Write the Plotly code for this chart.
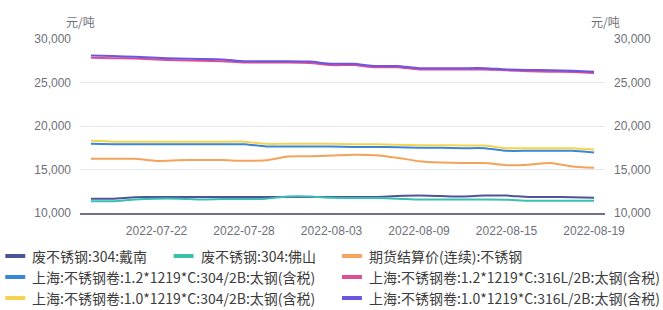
import plotly.graph_objects as go

dates = ["2022-07-19","2022-07-20","2022-07-21","2022-07-22","2022-07-25","2022-07-26",
         "2022-07-27","2022-07-28","2022-07-29","2022-08-01","2022-08-02","2022-08-03",
         "2022-08-04","2022-08-05","2022-08-08","2022-08-09","2022-08-10","2022-08-11",
         "2022-08-12","2022-08-15","2022-08-16","2022-08-17","2022-08-18","2022-08-19"]

scrap_dainan = [11650,11650,11800,11850,11850,11850,11850,11850,11850,11850,11850,11850,
                11850,11850,11950,12000,11950,11900,12000,12000,11850,11850,11800,11750]
scrap_foshan = [11350,11350,11550,11650,11650,11550,11600,11600,11650,11900,11900,11750,
                11720,11720,11650,11550,11550,11550,11550,11530,11400,11420,11400,11400]
futures = [16250,16250,16230,15980,16050,16100,16080,16000,16050,16500,16520,16600,
           16700,16650,16350,15950,15800,15750,15750,15500,15550,15750,15350,15200]
coil12_304 = [17950,17900,17900,17900,17900,17900,17900,17900,17650,17650,17650,17650,
              17600,17600,17550,17500,17500,17450,17450,17150,17150,17150,17150,16950]
coil12_316 = [27850,27800,27750,27650,27550,27500,27450,27300,27300,27300,27250,27000,
              27000,26750,26750,26500,26500,26500,26500,26400,26300,26250,26200,26100]
coil10_304 = [18300,18200,18200,18200,18200,18200,18200,18200,17950,17950,17950,17950,
              17900,17900,17850,17800,17800,17750,17750,17450,17450,17450,17450,17300]
coil10_316 = [28100,28050,27950,27850,27750,27700,27650,27450,27450,27450,27400,27150,
              27150,26900,26900,26650,26650,26650,26650,26500,26450,26400,26350,26250]

names = ["废不锈钢:304:戴南", "废不锈钢:304:佛山", "期货结算价(连续):不锈钢",
         "上海:不锈钢卷:1.2*1219*C:304/2B:太钢(含税)", "上海:不锈钢卷:1.2*1219*C:316L/2B:太钢(含税)",
         "上海:不锈钢卷:1.0*1219*C:304/2B:太钢(含税)", "上海:不锈钢卷:1.0*1219*C:316L/2B:太钢(含税)"]
series = [scrap_dainan, scrap_foshan, futures, coil12_304, coil12_316, coil10_304, coil10_316]
colors = ["#4B5698", "#3BBFB0", "#F5A25A", "#3A87D6", "#DE4C96", "#F4D44E", "#6B55E3"]

y_ticks = [10000, 15000, 20000, 25000, 30000]
y_ticktext = ["10,000", "15,000", "20,000", "25,000", "30,000"]
x_tick_dates = ["2022-07-22", "2022-07-28", "2022-08-03", "2022-08-09", "2022-08-15", "2022-08-19"]

W, H = 663, 310
L, R, T, B = 80, 56, 39, 97
PW, PH = W - L - R, H - T - B

fig = go.Figure()
for nm, vals, c in zip(names, series, colors):
    fig.add_trace(go.Scatter(x=dates, y=vals, name=nm, mode="lines",
                             line=dict(color=c, width=2, shape="spline", smoothing=0.5),
                             showlegend=False))

font_family = "Noto Sans CJK SC, Liberation Sans, sans-serif"
tick_family = "Liberation Sans, Noto Sans CJK SC, sans-serif"
tick_font = dict(family=tick_family, size=12, color="#6E7079")

fig.update_layout(
    width=W, height=H,
    margin=dict(l=L, r=R, t=T, b=B, pad=0),
    paper_bgcolor="white", plot_bgcolor="white",
    xaxis=dict(type="category", categoryorder="array", categoryarray=dates,
               range=[-0.5, len(dates) - 0.5],
               tickmode="array", tickvals=x_tick_dates, ticktext=x_tick_dates,
               showgrid=False, showline=True, linecolor="#6E7092", linewidth=2,
               ticks="", tickfont=tick_font, ticklabelstandoff=6, zeroline=False),
    yaxis=dict(range=[10000, 30000], tickmode="array", tickvals=y_ticks, ticktext=y_ticktext,
               showgrid=True, gridcolor="#E6E6EF", gridwidth=1, zeroline=False,
               showline=False, ticks="", tickfont=tick_font, ticklabelstandoff=8),
    yaxis2=dict(range=[10000, 30000], tickmode="array", tickvals=y_ticks, ticktext=y_ticktext,
                overlaying="y", side="right", showgrid=False, zeroline=False,
                showline=False, ticks="", tickfont=tick_font, ticklabelstandoff=8),
)

# dummy invisible trace so the right axis is drawn
fig.add_trace(go.Scatter(x=[dates[0]], y=[None], yaxis="y2", showlegend=False,
                         hoverinfo="skip", mode="lines"))

def px_x(p):
    return (p - L) / PW

def px_y(p):
    return (H - B - p) / PH

# axis unit labels
for xp in (80, 607):
    fig.add_annotation(x=px_x(xp), y=px_y(21), xref="paper", yref="paper", text="元/吨",
                       showarrow=False, xanchor="center", yanchor="middle",
                       font=dict(family=font_family, size=12, color="#6E7079"))

# custom legend (order: row by row)
legend_pos = [(5, 256), (174, 256), (343, 256), (5, 277), (343, 277), (5, 298), (343, 298)]
for (lx, ly), nm, c in zip(legend_pos, names, colors):
    fig.add_shape(type="line", xref="paper", yref="paper",
                  x0=px_x(lx), x1=px_x(lx + 20), y0=px_y(ly), y1=px_y(ly),
                  line=dict(color=c, width=4))
    fig.add_annotation(x=px_x(lx + 25), y=px_y(ly), xref="paper", yref="paper", text=nm,
                       showarrow=False, xanchor="left", yanchor="middle",
                       font=dict(family=font_family, size=14, color="#3C3C3C"))

fig.write_html("out.html")
